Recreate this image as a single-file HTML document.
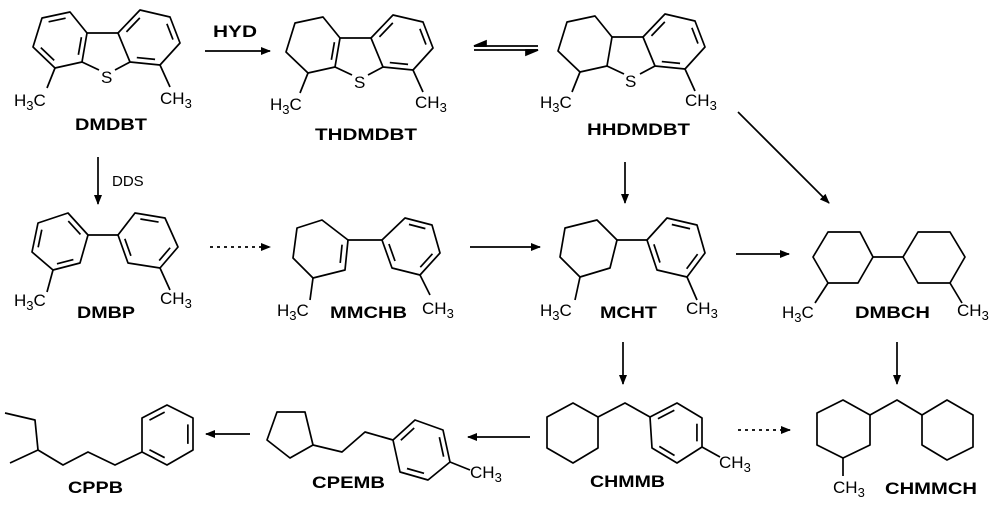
<!DOCTYPE html>
<html><head><meta charset="utf-8"><style>
html,body{margin:0;padding:0;background:#fff}
svg{display:block}
text{font-family:"Liberation Sans",Arial,sans-serif;fill:#000}
.l{font-weight:bold;font-size:17px}
.m{font-size:17px}
.m tspan.s{font-size:13px}
</style></head><body>
<svg id="s" width="1000" height="513" viewBox="0 0 1000 513" xmlns="http://www.w3.org/2000/svg">
<defs><marker id="ah" markerWidth="10" markerHeight="8" refX="9" refY="4" orient="auto" markerUnits="userSpaceOnUse"><path d="M0,0 L10,4 L0,8 z" fill="#000"/></marker></defs>
<g id="g" stroke="#000" stroke-width="1.7" fill="none" stroke-linejoin="round"></g>
<g id="a" stroke="#000" stroke-width="1.7" fill="none">
<line x1="205" y1="51" x2="270" y2="51" marker-end="url(#ah)"/>
<line x1="474" y1="46" x2="538" y2="46"/>
<path d="M474,46 L486,41 L486,46z" fill="#000"/>
<line x1="474" y1="50" x2="538" y2="50"/>
<path d="M538,50 L526,55 L526,50z" fill="#000"/>
<line x1="98" y1="157" x2="98" y2="204" marker-end="url(#ah)"/>
<line x1="210" y1="247" x2="270" y2="247" stroke-dasharray="3,4" marker-end="url(#ah)"/>
<line x1="470" y1="247" x2="540" y2="247" marker-end="url(#ah)"/>
<line x1="625" y1="162" x2="625" y2="203" marker-end="url(#ah)"/>
<line x1="738" y1="112" x2="829" y2="203" marker-end="url(#ah)"/>
<line x1="736" y1="254" x2="789" y2="254" marker-end="url(#ah)"/>
<line x1="623" y1="342" x2="623" y2="384" marker-end="url(#ah)"/>
<line x1="897" y1="342" x2="897" y2="384" marker-end="url(#ah)"/>
<line x1="530" y1="437" x2="468" y2="437" marker-end="url(#ah)"/>
<line x1="738" y1="430" x2="790" y2="430" stroke-dasharray="3,4" marker-end="url(#ah)"/>
<line x1="250" y1="434" x2="206" y2="434" marker-end="url(#ah)"/>
</g>
<text x="213" y="37" class="l" textLength="44" lengthAdjust="spacingAndGlyphs">HYD</text>
<text x="112" y="186" font-size="15">DDS</text>
<text x="14" y="106" class="m">H<tspan class="s" dy="4">3</tspan><tspan dy="-4">C</tspan></text>
<text x="160" y="104" class="m">CH<tspan class="s" dy="4">3</tspan></text>
<text x="101" y="83" class="m">S</text>
<text x="75" y="130" class="l" textLength="72" lengthAdjust="spacingAndGlyphs">DMDBT</text>
<text x="270" y="110" class="m">H<tspan class="s" dy="4">3</tspan><tspan dy="-4">C</tspan></text>
<text x="415" y="108" class="m">CH<tspan class="s" dy="4">3</tspan></text>
<text x="354" y="88" class="m">S</text>
<text x="315" y="140" class="l" textLength="102" lengthAdjust="spacingAndGlyphs">THDMDBT</text>
<text x="540" y="108" class="m">H<tspan class="s" dy="4">3</tspan><tspan dy="-4">C</tspan></text>
<text x="685" y="106" class="m">CH<tspan class="s" dy="4">3</tspan></text>
<text x="625" y="87" class="m">S</text>
<text x="587" y="135" class="l" textLength="103" lengthAdjust="spacingAndGlyphs">HHDMDBT</text>
<text x="14" y="306" class="m">H<tspan class="s" dy="4">3</tspan><tspan dy="-4">C</tspan></text>
<text x="160" y="304" class="m">CH<tspan class="s" dy="4">3</tspan></text>
<text x="77" y="318" class="l" textLength="58" lengthAdjust="spacingAndGlyphs">DMBP</text>
<text x="277" y="316" class="m">H<tspan class="s" dy="4">3</tspan><tspan dy="-4">C</tspan></text>
<text x="422" y="314" class="m">CH<tspan class="s" dy="4">3</tspan></text>
<text x="330" y="318" class="l" textLength="77" lengthAdjust="spacingAndGlyphs">MMCHB</text>
<text x="540" y="316" class="m">H<tspan class="s" dy="4">3</tspan><tspan dy="-4">C</tspan></text>
<text x="686" y="314" class="m">CH<tspan class="s" dy="4">3</tspan></text>
<text x="600" y="318" class="l" textLength="57" lengthAdjust="spacingAndGlyphs">MCHT</text>
<text x="782" y="318" class="m">H<tspan class="s" dy="4">3</tspan><tspan dy="-4">C</tspan></text>
<text x="957" y="316" class="m">CH<tspan class="s" dy="4">3</tspan></text>
<text x="855" y="318" class="l" textLength="75" lengthAdjust="spacingAndGlyphs">DMBCH</text>
<text x="719" y="468" class="m">CH<tspan class="s" dy="4">3</tspan></text>
<text x="590" y="487" class="l" textLength="75" lengthAdjust="spacingAndGlyphs">CHMMB</text>
<text x="833" y="493" class="m">CH<tspan class="s" dy="4">3</tspan></text>
<text x="885" y="494" class="l" textLength="92" lengthAdjust="spacingAndGlyphs">CHMMCH</text>
<text x="470" y="478" class="m">CH<tspan class="s" dy="4">3</tspan></text>
<text x="312" y="488" class="l" textLength="73" lengthAdjust="spacingAndGlyphs">CPEMB</text>
<text x="68" y="493" class="l" textLength="55" lengthAdjust="spacingAndGlyphs">CPPB</text>
</svg>
<script>
var g=document.getElementById('g'),NS='http://www.w3.org/2000/svg';
function pl(p,close){var e=document.createElementNS(NS,close?'polygon':'polyline');e.setAttribute('points',p.map(function(q){return q.join(',')}).join(' '));g.appendChild(e);}
function ln(a,b){pl([a,b]);}
function ring(p,d,dx,dy){dx=dx||0;dy=dy||0;p=p.map(function(q){return[q[0]+dx,q[1]+dy]});pl(p,true);
var cx=0,cy=0;p.forEach(function(q){cx+=q[0];cy+=q[1]});cx/=p.length;cy/=p.length;
(d||[]).forEach(function(i){var a=p[i],b=p[(i+1)%p.length];
var f=0.2,A=[a[0]+(cx-a[0])*f,a[1]+(cy-a[1])*f],B=[b[0]+(cx-b[0])*f,b[1]+(cy-b[1])*f];
var s=0.12,A2=[A[0]+(B[0]-A[0])*s,A[1]+(B[1]-A[1])*s],B2=[B[0]+(A[0]-B[0])*s,B[1]+(A[1]-B[1])*s];ln(A2,B2);});}
function P(p,dx,dy){return p.map(function(q){return[q[0]+dx,q[1]+dy]});}
var L=[[42,18],[70,12],[87,33],[82,62],[55,68],[33,47]];
var R=[[118,33],[140,10],[170,17],[180,43],[160,65],[130,62]];
ring(L,[0,2,4]);ring(R,[0,2,4]);pl([[82,62],[99,70]]);pl([[115,70],[130,62]]);ln([87,33],[118,33]);
ln([55,68],[47,88]);ln([160,65],[170,87]);
var dx=253,dy=5;ring(L,[2],dx,dy);ring(R,[0,2,4],dx,dy);pl(P([[82,62],[99,70]],dx,dy));pl(P([[115,70],[130,62]],dx,dy));ln([87+dx,33+dy],[118+dx,33+dy]);
ln([55+dx,68+dy],[47+dx,88+dy]);ln([160+dx,65+dy],[170+dx,87+dy]);
dx=525;dy=4;ring(L,[],dx,dy);ring(R,[0,2,4],dx,dy);pl(P([[82,62],[99,70]],dx,dy));pl(P([[115,70],[130,62]],dx,dy));ln([87+dx,33+dy],[118+dx,33+dy]);
ln([55+dx,68+dy],[47+dx,88+dy]);ln([160+dx,65+dy],[170+dx,87+dy]);
ring([[68,213],[88,235],[80,263],[53,270],[32,252],[38,223]],[0,2,4]);
ring([[118,235],[135,213],[165,218],[178,247],[160,268],[128,263]],[1,3,5]);
ln([88,235],[118,235]);ln([53,270],[47,292]);ln([160,268],[170,290]);
ring([[322,220],[348,240],[345,270],[313,278],[293,258],[297,228]],[1]);
ring([[382,240],[405,218],[432,225],[440,253],[420,275],[392,268]],[1,3,5]);
ln([348,240],[382,240]);ln([313,278],[310,300]);ln([420,275],[430,295]);
ring([[565,228],[597,220],[617,240],[610,268],[580,277],[560,257]]);
ring([[647,240],[667,218],[697,225],[705,253],[687,277],[657,270]],[1,3,5]);
ln([617,240],[647,240]);ln([580,277],[575,300]);ln([687,277],[697,300]);
ring([[828,232],[860,232],[873,257],[858,283],[828,283],[813,257]]);
ring([[903,257],[918,232],[950,232],[965,257],[950,283],[918,283]]);
ln([873,257],[903,257]);ln([828,283],[815,303]);ln([950,283],[962,303]);
ring([[547,417],[573,403],[598,417],[598,448],[573,463],[547,448]]);
pl([[598,417],[625,403],[650,417]]);
ring([[650,417],[677,403],[702,418],[702,447],[677,463],[652,448]],[0,2,4]);
ln([702,447],[720,457]);
ring([[817,413],[843,400],[870,415],[870,445],[843,458],[817,445]]);
pl([[870,415],[897,400],[922,415]]);
ring([[922,415],[947,400],[973,415],[973,447],[947,460],[922,445]]);
ln([843,458],[843,476]);
ring([[267,440],[277,412],[305,412],[313,445],[290,458]]);
pl([[313,445],[342,452],[365,432],[393,440]]);
ring([[393,440],[415,420],[443,430],[450,462],[428,480],[400,472]],[0,2,4]);
ln([450,462],[470,470]);
pl([[5,413],[35,420],[38,450],[10,463]]);
pl([[38,450],[63,465],[88,452],[115,465],[142,452]]);
ring([[142,452],[142,418],[167,405],[193,418],[193,450],[167,465]],[1,3,5]);
</script>
</body></html>
